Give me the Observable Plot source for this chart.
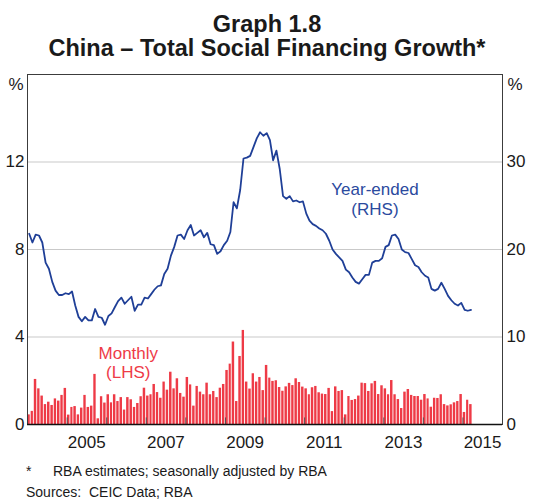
<!DOCTYPE html>
<html><head><meta charset="utf-8">
<script src="https://cdn.jsdelivr.net/npm/d3@7"></script>
<script src="https://cdn.jsdelivr.net/npm/@observablehq/plot@0.6"></script>
<style>
body{margin:0;background:#fff;font-family:"Liberation Sans",Arial,sans-serif;color:#1a1a1a;}
#wrap{position:relative;width:534px;height:502px;overflow:hidden;}
.t{position:absolute;left:0;width:534px;text-align:center;font-weight:bold;font-size:23.5px;line-height:1;white-space:nowrap;}
#chart{position:absolute;left:0;top:62px;}
.fn{position:absolute;font-size:14px;line-height:1;white-space:nowrap;}
</style></head>
<body>
<div id="wrap">
  <div class="t" style="top:12.6px">Graph 1.8</div>
  <div class="t" style="top:37.1px">China – Total Social Financing Growth*</div>
  <div id="chart"></div>
  <div class="fn" style="top:463.8px;left:26px">*</div>
  <div class="fn" style="top:463.8px;left:53px">RBA estimates; seasonally adjusted by RBA</div>
  <div class="fn" style="top:484.8px;left:26px">Sources:</div>
  <div class="fn" style="top:484.8px;left:89px">CEIC Data; RBA</div>
</div>
<script>
// Monthly growth (LHS, %), Jan 2004 – Mar 2015
const monthly = [
  0.44,0.60,2.06,1.63,1.30,0.91,1.02,0.87,1.17,1.07,1.33,1.65,
  0.43,0.78,0.82,0.44,0.75,1.33,0.78,0.84,2.29,0.26,1.27,0.98,
  1.36,0.99,1.36,1.05,1.23,0.66,1.23,1.13,0.78,0.96,1.27,1.66,
  1.30,1.36,1.83,1.46,1.20,1.94,1.57,2.39,1.63,2.09,1.42,1.25,
  2.15,1.81,0.84,1.74,1.48,1.36,1.89,1.36,1.51,1.23,1.66,1.83,
  2.47,2.76,3.77,1.05,3.11,4.30,1.94,1.62,2.32,1.94,2.15,1.55,
  2.70,2.12,1.97,2.00,1.69,1.52,1.72,1.88,1.78,2.09,1.92,1.71,
  1.63,1.36,1.68,1.74,1.45,1.39,1.37,1.65,0.59,1.72,1.51,1.55,
  0.44,1.28,1.10,1.14,1.30,1.89,1.87,1.51,1.86,1.97,1.37,1.77,
  1.63,1.36,2.01,1.36,1.14,0.73,1.48,1.60,1.33,1.28,1.28,1.11,
  1.37,1.17,0.79,1.20,1.19,1.36,0.91,0.85,0.90,0.99,1.05,1.37,
  0.55,1.11,0.91
];
// Year-ended growth (RHS, %), Jan 2004 – Mar 2015
const yearEnded = [
  21.8,20.8,21.7,21.6,20.8,18.5,17.8,16.3,15.3,14.8,14.8,15.0,
  14.9,15.2,13.6,12.3,11.8,12.3,11.9,11.9,13.2,12.3,12.2,11.4,
  12.4,12.7,13.4,14.1,14.5,13.8,14.2,14.6,13.0,13.7,13.7,14.5,
  14.4,14.9,15.4,15.8,15.9,17.2,17.8,19.3,20.3,21.6,21.7,21.2,
  22.2,22.8,21.6,21.9,22.2,21.4,21.9,20.6,20.5,19.5,19.8,20.5,
  21.0,22.0,25.4,24.7,26.8,30.4,30.5,30.7,31.7,32.7,33.4,33.0,
  33.3,32.5,30.2,31.3,29.2,26.1,25.8,26.1,25.5,25.6,25.4,25.5,
  24.1,23.3,22.9,22.7,22.4,22.2,21.8,21.0,20.0,19.5,19.1,18.7,
  17.7,17.4,16.8,16.3,16.1,16.6,17.1,17.1,18.5,18.7,18.7,19.0,
  20.3,20.5,21.6,21.7,21.2,20.0,19.7,19.6,18.9,18.2,18.0,17.4,
  17.0,16.8,15.5,15.3,15.5,16.2,15.5,14.7,14.2,13.8,13.6,13.9,
  13.1,13.0,13.1
];
const startMonth = "2004-01-01";
const xDomain = ["2004-01-01", "2016-01-01"];
const lhsTicks = [0, 4, 8, 12];
const lhsMax = 16, rhsMax = 40;
const labelYears = [2005, 2007, 2009, 2011, 2013, 2015];
const tickYears = [2005, 2006, 2007, 2008, 2009, 2010, 2011, 2012, 2013, 2014, 2015];
const seriesLabels = [
  {date: "2012-10-11", y: 9.6, text: "Year-ended\n(RHS)", color: "#2b4a9e", lh: 1.12},
  {date: "2006-07-19", y: 2.12, text: "Monthly\n(LHS)", color: "#ee3b48", lh: 1.14}
];

const red = "#ee3a46", blue = "#1f3f97";
const t0 = new Date(startMonth);
const data = monthly.map((v, i) => {
  const s = d3.utcMonth.offset(t0, i), e = d3.utcMonth.offset(t0, i + 1);
  return {start: s, end: e, mid: new Date((+s + +e) / 2), monthly: v, yearEnded: yearEnded[i]};
});
const scaleR = lhsMax / rhsMax;

const chart = Plot.plot({
  width: 534, height: 394,
  marginTop: 12, marginBottom: 32, marginLeft: 27, marginRight: 32,
  style: {fontFamily: "'Liberation Sans', Arial, sans-serif", fontSize: "17px", color: "#1a1a1a", background: "#fff"},
  x: {type: "utc", domain: xDomain.map(d => new Date(d))},
  y: {domain: [0, lhsMax]},
  marks: [
    Plot.ruleY([4, 8, 12], {stroke: "#c9c9c9", strokeWidth: 1.2}),
    Plot.rectY(data, {x1: "start", x2: "end", y: "monthly", fill: red, insetLeft: 0.3, insetRight: 0.6}),
    Plot.ruleX(tickYears.map(y => new Date(Date.UTC(y, 0, 1))), {y1: 0, y2: 0.3, stroke: "#555", strokeWidth: 1}),
    Plot.line(data, {x: "mid", y: d => d.yearEnded * scaleR, stroke: blue, strokeWidth: 1.8, strokeLinejoin: "round"}),
    Plot.text(seriesLabels, {x: d => new Date(d.date), y: "y", text: "text", fill: d => d.color, lineAnchor: "bottom", lineHeight: 1.12, fontSize: 17}),
    Plot.frame({stroke: "#3c3c3c", strokeWidth: 1}),
    Plot.ruleY([0], {stroke: "#111", strokeWidth: 1.5}),
    Plot.axisY({anchor: "left", ticks: lhsTicks, tickSize: 0, tickPadding: 3, label: null, fontSize: 17}),
    Plot.axisY({anchor: "right", ticks: lhsTicks, tickSize: 0, tickPadding: 4, label: null, tickFormat: d => d / scaleR, fontSize: 17}),
    Plot.axisX({ticks: labelYears.map(y => new Date(Date.UTC(y, 6, 1))), tickSize: 0, tickPadding: 11, tickFormat: d3.utcFormat("%Y"), label: null, fontSize: 17}),
    Plot.text(["%"], {frameAnchor: "top-left", textAnchor: "end", dx: -4, dy: 15, lineAnchor: "bottom", fontSize: 17}),
    Plot.text(["%"], {frameAnchor: "top-right", textAnchor: "start", dx: 5, dy: 15, lineAnchor: "bottom", fontSize: 17})
  ]
});
document.getElementById("chart").appendChild(chart);
</script>
</body></html>
